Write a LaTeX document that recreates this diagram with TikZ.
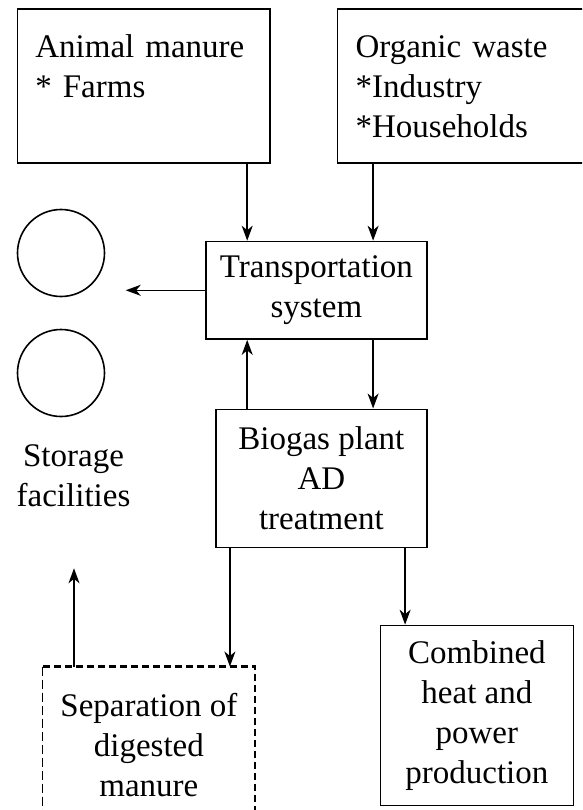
\documentclass[tikz,border=0pt]{standalone}
\usepackage{fontspec}
\setmainfont{Liberation Serif}
\usetikzlibrary{arrows.meta,positioning,calc}

\begin{document}
\begin{tikzpicture}[
  x=1pt,y=-1pt,
  every node/.style={font=\fontsize{33}{40}\selectfont},
  srcbox/.style={rectangle,draw,line width=1.6pt,inner xsep=18pt,align=left,text width=216.6pt,minimum height=154pt},
  procbox/.style={rectangle,draw,line width=1.6pt,align=center,inner sep=0pt},
  sepbox/.style={rectangle,align=center,inner sep=0pt},
  store/.style={circle,draw,line width=1.6pt,minimum size=87pt,inner sep=0pt},
  flow/.style={-{Stealth[length=15pt,width=11pt,inset=4.5pt]},line width=1.5pt},
  septhick/.style={line width=2.2pt,dash pattern=on 7pt off 4pt},
  septhin/.style={line width=1.3pt,dash pattern=on 9pt off 4pt}
]
\clip (0,0) rectangle (582,810);

% sources
\node[srcbox] (manure) at (143.7,86.3) {Animal manure\\{*} Farms\\\mbox{}};
\node[srcbox] (waste) at (463.9,86.3) {Organic waste\\{*}Industry\\{*}Households};

% main chain
\node[procbox,minimum width=220.7pt,minimum height=97.6pt] (transport) at (316.35,290.3) {Transportation\\system};
\node[procbox,minimum width=210.7pt,minimum height=138pt] (biogas) at (321.35,478.3) {Biogas plant\\AD\\treatment};
\node[procbox,minimum width=193pt,minimum height=180pt] (chp) at (476.9,715.5) {Combined\\heat and\\power\\production};
\node[sepbox,minimum width=212.3pt,minimum height=157.3pt] (sep) at (148.85,745.35) {Separation of\\digested\\manure};

% storage
\node[store] (store1) at (61,253) {};
\node[store] (store2) at (61,373) {};
\node[align=center,inner sep=0pt] (storelabel) at (73.5,475.8) {Storage\\facilities};

\coordinate (tostore) at (125.7,290.3);
\coordinate (sepup) at (74,568.3);

\draw[flow] ([xshift=42pt]transport.north west |- manure.south) -- ([xshift=42pt]transport.north west);
\draw[flow] ([xshift=-54.4pt]transport.north east |- waste.south) -- ([xshift=-54.4pt]transport.north east);
\draw[flow] (transport.west) -- (tostore);
\draw[flow] ([xshift=42pt]transport.south west |- biogas.north) -- ([xshift=42pt]transport.south west);
\draw[flow] ([xshift=-54.4pt]transport.south east) -- ([xshift=-54.4pt]transport.south east |- biogas.north);
\draw[flow] ([xshift=14.7pt]biogas.south west) -- ([xshift=14.7pt]biogas.south west |- sep.north);
\draw[flow] ([xshift=-22.4pt]biogas.south east) -- ([xshift=-22.4pt]biogas.south east |- chp.north);
\draw[flow] (sepup |- sep.north) -- (sepup);

% dashed outline of the separation step
\draw[septhick] (sep.south east) -- (sep.north east) -- (sep.north west);
\draw[septhin] (sep.north west) -- (sep.south west);
\end{tikzpicture}
\end{document}
